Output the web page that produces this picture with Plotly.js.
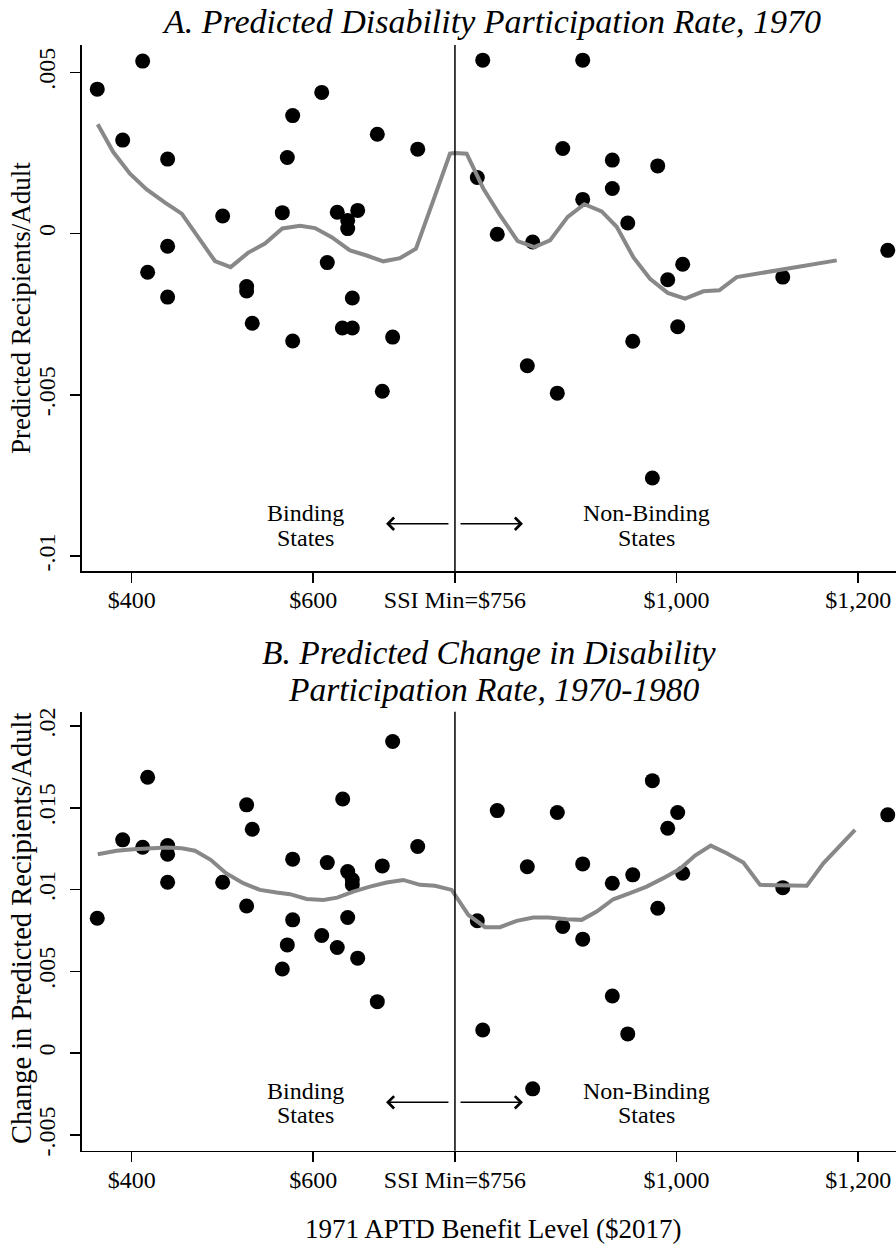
<!DOCTYPE html>
<html>
<head>
<meta charset="utf-8">
<script src="https://cdn.plot.ly/plotly-3.0.1.min.js"></script>
<style>html,body{margin:0;padding:0;background:#fff;}#chart{width:896px;height:1247px;}</style>
</head>
<body>
<div id="chart"></div>
<script>
// ---------- Data ----------
// Panel A: predicted disability participation rate, 1970
const benefitA = [362.1, 412.1, 390.1, 439.6, 439.6, 439.6, 417.6, 500.2, 526.6, 526.6, 532.8, 565.9, 571.4, 577.3, 577.3, 609.3, 615.4, 626.4, 637.9, 637.9, 648.9, 643.0, 643.0, 632.0, 670.5, 715.0, 687.4, 676.0,
  786.6, 896.7, 874.7, 929.3, 979.3, 929.3, 780.6, 896.7, 946.3, 802.6, 841.6, 1006.8, 990.3, 1117.0, 1232.6, 1001.3, 835.7, 868.7, 951.8, 973.4];
const rateA = [0.00448, 0.00535, 0.0029, 0.00231, -0.000394, -0.00197, -0.0012, 0.000547, -0.00164, -0.00178, -0.00278, 0.00065, 0.00236, 0.00366, -0.00333, 0.00438, -0.0009, 0.00066, 0.00041, 0.000155, 0.00072, -0.002, -0.00293, -0.00293, 0.00308, 0.00262, -0.00321, -0.00489,
  0.00538, 0.00538, 0.00264, 0.00228, 0.0021, 0.0014, 0.00174, 0.00106, 0.00033, -0.00002, -0.00026, -0.00095, -0.00143, -0.00135, -0.00052, -0.00289, -0.0041, -0.00495, -0.00334, -0.00758];
const smoothXA = [362.6, 379.7, 398.1, 416.5, 436.7, 455.1, 473.4, 491.7, 509.0, 528.4, 546.8, 565.9, 585.4, 601.9, 620.3, 640.4, 658.8, 677.1, 695.5, 713.1, 732.2, 750.6, 756.0, 768.9, 787.2, 805.6, 825.1, 843.4, 860.7, 880.2, 898.5, 917.6, 934.1, 952.4, 970.8, 990.3, 1009.4, 1029.5, 1047.1, 1066.3, 1176.4];
const smoothYA = [0.00339, 0.00253, 0.00186, 0.00137, 0.00096, 0.00062, -0.00012, -0.00085, -0.00104, -0.00059, -0.00031, 0.00016, 0.00024, 0.00017, -0.00011, -0.00052, -0.00068, -0.00086, -0.00076, -0.00047, 0.00103, 0.00248, 0.0025, 0.00248, 0.0014, 0.00057, -0.00023, -0.00042, -0.00021, 0.00052, 0.00091, 0.00069, 0.00021, -0.00073, -0.0014, -0.00184, -0.00202, -0.00179, -0.00176, -0.00135, -0.00083];

// Panel B: predicted change in disability participation rate, 1970-1980
const benefitB = [362.1, 390.1, 417.6, 412.1, 439.6, 439.6, 439.6, 500.2, 526.6, 532.8, 526.6, 577.3, 577.3, 571.4, 565.9, 609.3, 615.4, 626.4, 632.4, 637.9, 643.0, 643.0, 637.9, 648.9, 687.4, 676.0, 715.0, 670.5,
  802.6, 868.7, 973.4, 1001.3, 990.3, 1232.6, 835.7, 896.7, 929.3, 951.8, 1006.8, 1117.0, 780.6, 874.7, 896.7, 979.3, 929.3, 786.6, 946.3, 841.6];
const changeB = [0.00825, 0.01304, 0.01687, 0.01259, 0.01269, 0.01216, 0.01045, 0.01045, 0.01518, 0.01369, 0.009, 0.01186, 0.00815, 0.00662, 0.00515, 0.00719, 0.01165, 0.00646, 0.01554, 0.0111, 0.0106, 0.0103, 0.00829, 0.00581, 0.01905, 0.01145, 0.01263, 0.00315,
  0.01483, 0.01471, 0.01666, 0.01471, 0.01375, 0.01457, 0.0114, 0.01157, 0.01039, 0.0109, 0.011, 0.01012, 0.0081, 0.00774, 0.00697, 0.00886, 0.0035, 0.00142, 0.00118, -0.00218];
const smoothXB = [362.6, 383.5, 401.8, 420.2, 438.5, 455.1, 469.7, 487.0, 503.9, 522.9, 541.3, 559.7, 574.3, 592.7, 611.0, 626.4, 644.0, 662.4, 680.8, 699.1, 717.5, 734.0, 752.4, 770.7, 789.1, 805.6, 824.0, 842.3, 858.8, 879.1, 895.6, 912.1, 930.4, 948.8, 967.2, 985.5, 1003.9, 1020.4, 1037.7, 1055.3, 1073.6, 1092.0, 1143.4, 1161.7, 1178.2, 1196.6];
const smoothYB = [0.01216, 0.01237, 0.01247, 0.01253, 0.01257, 0.01253, 0.01238, 0.01182, 0.011, 0.01039, 0.00998, 0.00982, 0.00972, 0.00943, 0.00937, 0.00951, 0.00988, 0.01018, 0.01043, 0.01059, 0.01029, 0.01023, 0.00998, 0.00845, 0.0077, 0.0077, 0.00809, 0.00829, 0.00829, 0.00819, 0.00815, 0.00866, 0.00941, 0.00978, 0.01018, 0.0107, 0.01127, 0.01208, 0.01269, 0.01222, 0.01165, 0.01029, 0.01023, 0.01161, 0.01259, 0.01365];

// Tick labels
const xTickVals = [400, 600, 756, 1000, 1200];
const xTickText = ['$400', '$600', 'SSI Min=$756', '$1,000', '$1,200'];
const yTickValsA = [-0.01, -0.005, 0, 0.005];
const yTickTextA = ['-.01', '-.005', '0', '.005'];
const yTickValsB = [-0.005, 0, 0.005, 0.01, 0.015, 0.02];
const yTickTextB = ['-.005', '0', '.005', '.01', '.015', '.02'];
const ssiMin = 756;

// ---------- Layout helpers ----------
const W = 896, H = 1247;
const px = v => v / W;           // pixel -> paper x
const py = v => 1 - v / H;       // pixel -> paper y
const FONT = 'Liberation Serif, Times New Roman, serif';
const dotColor = '#000000';
const lineColor = '#888888';

const traces = [
  {x: benefitA, y: rateA, type: 'scatter', mode: 'markers', xaxis: 'x', yaxis: 'y',
   marker: {color: dotColor, size: 15}, hoverinfo: 'x+y', showlegend: false},
  {x: smoothXA, y: smoothYA, type: 'scatter', mode: 'lines', xaxis: 'x', yaxis: 'y',
   line: {color: lineColor, width: 4}, showlegend: false},
  {x: benefitB, y: changeB, type: 'scatter', mode: 'markers', xaxis: 'x2', yaxis: 'y2',
   marker: {color: dotColor, size: 15}, hoverinfo: 'x+y', showlegend: false},
  {x: smoothXB, y: smoothYB, type: 'scatter', mode: 'lines', xaxis: 'x2', yaxis: 'y2',
   line: {color: lineColor, width: 4}, showlegend: false}
];

const tickFont = {family: FONT, size: 24, color: '#000'};
function xAxis(anchor) {
  return {domain: [px(82), 1], range: [345.3, 1241.7], anchor: anchor,
    showline: true, linecolor: '#000', linewidth: 1.6, mirror: false,
    ticks: 'outside', ticklen: 10, tickwidth: 1.6, tickcolor: '#000',
    tickmode: 'array', tickvals: xTickVals, ticktext: xTickText, tickfont: tickFont,
    ticklabelstandoff: -3,
    showgrid: false, zeroline: false, fixedrange: true};
}
function yAxis(anchor, dom, range, vals, text) {
  return {domain: dom, range: range, anchor: anchor,
    showline: true, linecolor: '#000', linewidth: 1.6,
    ticks: 'outside', ticklen: 10, tickwidth: 1.6, tickcolor: '#000',
    tickmode: 'array', tickvals: vals, ticktext: text, tickfont: tickFont, tickangle: -90,
    ticklabelstandoff: 6,
    showgrid: false, zeroline: false, fixedrange: true};
}

function txt(text, x, y, size, opts) {
  return Object.assign({text: text, xref: 'paper', yref: 'paper', x: x, y: y,
    xanchor: 'center', yanchor: 'middle', showarrow: false,
    font: {family: FONT, size: size, color: '#000'}}, opts || {});
}
function dataTxt(text, xr, yr, x, y) {
  return {text: text, xref: xr, yref: yr, x: x, y: y, xanchor: 'center', yanchor: 'middle',
    showarrow: false, font: {family: FONT, size: 24, color: '#000'}};
}
function arrow(xr, yr, tailX, headX, y) {
  return {text: '', xref: xr, yref: yr, axref: xr, ayref: yr, x: headX, y: y, ax: tailX, ay: y,
    showarrow: true, arrowhead: 4, arrowsize: 1.7, arrowwidth: 1.4, arrowcolor: '#000', standoff: 0, startstandoff: 0};
}

const annotations = [
  txt('<i>A. Predicted Disability Participation Rate, 1970</i>', px(491), py(21), 34),
  txt('<i>B. Predicted Change in Disability</i>', px(489), py(652), 33.5),
  txt('<i>Participation Rate, 1970-1980</i>', px(494), py(689.5), 33.5),
  txt('1971 APTD Benefit Level ($2017)', px(493), py(1229), 27),
  txt('Predicted Recipients/Adult', px(21), py(308), 27, {textangle: -90}),
  txt('Change in Predicted Recipients/Adult', px(21), py(929), 28.5, {textangle: -90}),
  dataTxt('Binding', 'x', 'y', 590.9, -0.00868),
  dataTxt('States', 'x', 'y', 590.9, -0.00943),
  dataTxt('Non-Binding', 'x', 'y', 966.4, -0.00868),
  dataTxt('States', 'x', 'y', 966.4, -0.00943),
  arrow('x', 'y', 750.5, 680.1, -0.009),
  arrow('x', 'y', 760.5, 830.9, -0.009),
  dataTxt('Binding', 'x2', 'y2', 590.9, -0.0023),
  dataTxt('States', 'x2', 'y2', 590.9, -0.00378),
  dataTxt('Non-Binding', 'x2', 'y2', 966.4, -0.0023),
  dataTxt('States', 'x2', 'y2', 966.4, -0.00378),
  arrow('x2', 'y2', 750.5, 680.1, -0.003),
  arrow('x2', 'y2', 760.5, 830.9, -0.003)
];

const shapes = [
  {type: 'line', xref: 'x', yref: 'y domain', x0: ssiMin, x1: ssiMin, y0: 0, y1: 1, line: {color: '#000', width: 1.5}},
  {type: 'line', xref: 'x2', yref: 'y2 domain', x0: ssiMin, x1: ssiMin, y0: 0, y1: 1, line: {color: '#000', width: 1.5}}
];

const layout = {
  width: W, height: H,
  margin: {l: 0, r: 0, t: 0, b: 0, pad: 0},
  paper_bgcolor: '#fff', plot_bgcolor: '#fff',
  showlegend: false,
  font: {family: FONT, color: '#000'},
  xaxis: xAxis('y'),
  yaxis: yAxis('x', [py(571), py(45)], [-0.010466, 0.00585], yTickValsA, yTickTextA),
  xaxis2: xAxis('y2'),
  yaxis2: yAxis('x2', [py(1150.7), py(711.7)], [-0.00596, 0.020874], yTickValsB, yTickTextB),
  annotations: annotations,
  shapes: shapes
};

Plotly.newPlot('chart', traces, layout, {displayModeBar: false, staticPlot: true});
</script>
</body>
</html>
